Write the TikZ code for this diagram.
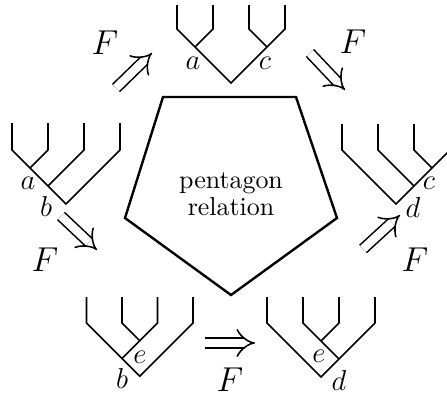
\documentclass[tikz,border=0pt]{standalone}
\usetikzlibrary{arrows.meta}
\begin{document}
\begin{tikzpicture}[x=0.41667pt,y=-0.41667pt,
  edge/.style={line width=0.65pt, line join=miter},
  pent/.style={line width=1pt, line join=miter},
  lab/.style={inner sep=0pt, font=\fontsize{11.5}{13}\selectfont},
  flab/.style={inner sep=0pt, font=\fontsize{14}{16}\selectfont},
  imp/.style={double, double distance=3.5pt, line width=0.65pt, -{Implies[scale=1.3]}}]
\useasboundingbox (0,0) rectangle (447,396);
\clip (0,0) rectangle (447,396);
% ---------- top tree ----------
\coordinate (t1a) at (195,47);
\coordinate (t1c) at (267,47);
\coordinate (t1r) at (231,83);
\draw[edge] (177,5)--(177,29)--(t1a)--(t1r)--(t1c)--(285,29)--(285,5);
\draw[edge] (213,5)--(213,29)--(t1a);
\draw[edge] (249,5)--(249,29)--(t1c);
\node[lab] (t1la) at (193,63) {$a$};
\node[lab] (t1lc) at (265,63) {$c$};
% ---------- left tree ----------
\coordinate (t2a) at (30,168);
\coordinate (t2b) at (48,186);
\coordinate (t2r) at (66,204);
\draw[edge] (12,123)--(12,150)--(t2a)--(t2b)--(t2r)--(120,150)--(120,123);
\draw[edge] (48,123)--(48,150)--(t2a);
\draw[edge] (84,123)--(84,150)--(t2b);
\node[lab] (t2la) at (28,183) {$a$};
\node[lab] (t2lb) at (46,206) {$b$};
% ---------- right tree ----------
\coordinate (t3c) at (432,168);
\coordinate (t3d) at (414,186);
\coordinate (t3r) at (396,204);
\draw[edge] (342,124)--(342,150)--(t3r)--(t3d)--(t3c)--(450,150)--(450,124);
\draw[edge] (378,124)--(378,150)--(t3d);
\draw[edge] (414,124)--(414,150)--(t3c);
\node[lab] (t3lc) at (429,183) {$c$};
\node[lab] (t3ld) at (413,207) {$d$};
% ---------- bottom-left tree ----------
\coordinate (t4e) at (139.75,340.75);
\coordinate (t4b) at (122,358.5);
\coordinate (t4r) at (139.75,376.25);
\draw[edge] (86.5,297)--(86.5,323)--(t4b)--(t4r)--(193,323)--(193,297);
\draw[edge] (122,297)--(122,323)--(t4e)--(t4b);
\draw[edge] (157.5,297)--(157.5,323)--(t4e);
\node[lab] (t4le) at (140,357) {$e$};
\node[lab] (t4lb) at (122,378) {$b$};
% ---------- bottom-right tree ----------
\coordinate (t5e) at (321,341);
\coordinate (t5d) at (339,359);
\coordinate (t5r) at (321,377);
\draw[edge] (267,297)--(267,323)--(t5r)--(t5d)--(375,323)--(375,297);
\draw[edge] (303,297)--(303,323)--(t5e)--(t5d);
\draw[edge] (339,297)--(339,323)--(t5e);
\node[lab] (t5le) at (319,356) {$e$};
\node[lab] (t5ld) at (339,380) {$d$};
% ---------- pentagon ----------
\draw[pent] (163,97)--(296,97)--(337,218)--(231,295)--(125,218)--cycle;
\node[align=center, inner sep=0pt, font=\fontsize{10.8}{11.2}\selectfont] (rel) at (231,194) {pentagon\\relation};
% ---------- arrows ----------
\coordinate (a1s) at (116,88);   \coordinate (a1e) at (152,53);
\coordinate (a2s) at (310,53);   \coordinate (a2e) at (345,90);
\coordinate (a3s) at (61,216);   \coordinate (a3e) at (97,250);
\coordinate (a4s) at (363,249);  \coordinate (a4e) at (400,215);
\coordinate (a5s) at (205,343);  \coordinate (a5e) at (255,343);
\draw[imp] (a1s) -- (a1e);
\draw[imp] (a2s) -- (a2e);
\draw[imp] (a3s) -- (a3e);
\draw[imp] (a4s) -- (a4e);
\draw[imp] (a5s) -- (a5e);
\node[flab] (f1) at (105,43) {$F$};
\node[flab] (f2) at (353,42) {$F$};
\node[flab] (f3) at (45,260) {$F$};
\node[flab] (f4) at (415,260) {$F$};
\node[flab] (f5) at (230,380) {$F$};
\end{tikzpicture}
\end{document}
